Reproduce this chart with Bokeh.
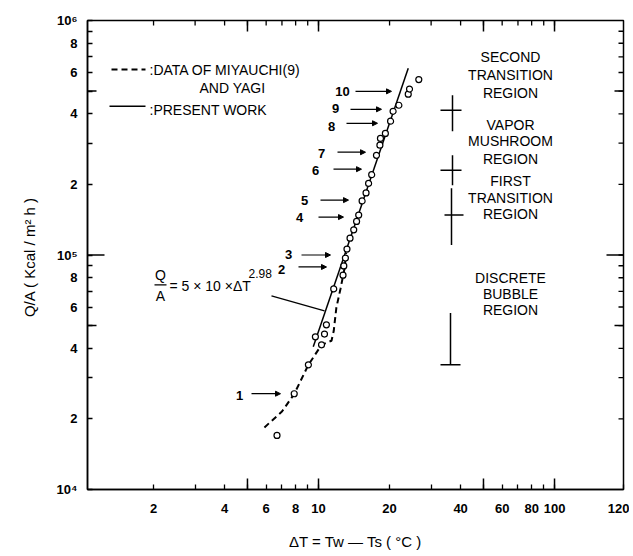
import math
from bokeh.plotting import figure
from bokeh.models import (FixedTicker, Label, Arrow, NormalHead)
from bokeh.embed import file_html
from bokeh.resources import INLINE

# ---------------- data ----------------
# measured points (open circles): delta T [degC], Q/A [kcal/m2 h]
pt_dt = [6.67, 7.89, 9.06, 9.7, 10.3, 10.6, 10.8, 11.6, 12.7, 12.8, 13.0, 13.2,
         13.6, 14.1, 14.5, 14.8, 15.3, 15.9, 16.3, 16.8, 17.6, 18.2, 18.3, 19.2,
         20.2, 20.7, 21.9, 24.0, 24.3, 26.6]
pt_q = [1.70e4, 2.56e4, 3.40e4, 4.48e4, 4.14e4, 4.6e4, 5.04e4, 7.17e4, 8.2e4, 8.98e4,
        9.7e4, 1.06e5, 1.18e5, 1.28e5, 1.39e5, 1.48e5, 1.70e5, 1.84e5, 2.02e5, 2.2e5,
        2.66e5, 2.94e5, 3.14e5, 3.30e5, 3.72e5, 4.1e5, 4.35e5, 4.85e5, 5.1e5, 5.6e5]

# present work (solid line)
present_dt = [9.5, 24.0]
present_q = [4.06e4, 6.25e5]

# data of Miyauchi and Yagi (dashed line)
miya_dt = [5.9, 7.0, 7.9, 9.06, 10.3, 11.35, 11.6, 11.9, 12.4, 12.9, 13.1]
miya_q = [1.84e4, 2.15e4, 2.56e4, 3.40e4, 4.14e4, 4.31e4, 4.74e4, 5.95e4, 7.2e4, 8.8e4, 1.02e5]

# axis ticks
x_major = [2, 4, 6, 8, 10, 20, 40, 60, 80, 100]
x_minor = [3, 5, 7, 9, 30, 50, 70, 90]
x_labels = ["2", "4", "6", "8", "10", "20", "40", "60", "80", "100"]
x_end_label = "120"
y_major = [1e4, 2e4, 4e4, 6e4, 8e4, 1e5, 2e5, 4e5, 6e5, 8e5, 1e6]
y_minor = [3e4, 5e4, 7e4, 9e4, 3e5, 5e5, 7e5, 9e5]
y_labels = ["10\u2074", "2", "4", "6", "8", "10\u2075", "2", "4", "6", "8", "10\u2076"]
x_long = [5, 10, 50, 100]
y_long = [5e4, 1e5, 5e5]

# ---------------- layout constants ----------------
XLO, XHI = 1.05, 196.0
YLO, YHI = 1e4, 1e6
FL, FR, FT, FB = 89, 625, 22, 492  # frame edges in page pixels
OFF = 2                             # page offset of the canvas
W, H = 629, 552
FONT = "Liberation Sans"


def dx(px):
    return 10 ** (math.log10(XLO) + (px - FL) / (FR - FL) * math.log10(XHI / XLO))


def dy(py):
    return 10 ** (math.log10(YLO) + (FB - py) / (FB - FT) * math.log10(YHI / YLO))


p = figure(width=W, height=H, x_axis_type="log", y_axis_type="log",
           x_range=(XLO, XHI), y_range=(YLO, YHI),
           output_backend="svg", toolbar_location=None,
           min_border_left=FL - OFF, min_border_right=W - (FR - OFF),
           min_border_top=FT - OFF, min_border_bottom=H - (FB - OFF),
           x_axis_label="\u0394T = Tw \u2014 Ts ( \u00b0C )",
           y_axis_label="Q/A  ( Kcal / m\u00b2 h )")
p.grid.visible = False
p.outline_line_color = "black"
p.outline_line_width = 1.5
p.background_fill_color = "white"
p.border_fill_color = "white"

xt = FixedTicker(ticks=x_major + [XHI], minor_ticks=x_minor)
yt = FixedTicker(ticks=y_major, minor_ticks=y_minor)

for ax, tk in ((p.xaxis[0], xt), (p.yaxis[0], yt)):
    ax.ticker = tk
    ax.axis_line_width = 1.5
    ax.major_tick_in = 5
    ax.major_tick_out = 0
    ax.minor_tick_in = 5
    ax.minor_tick_out = 0
    ax.major_tick_line_width = 1.3
    ax.minor_tick_line_width = 1.3
    ax.major_label_text_font = FONT
    ax.major_label_text_font_size = "13px"
    ax.major_label_text_font_style = "bold"
    ax.major_label_text_color = "black"
    ax.axis_label_text_font = FONT
    ax.axis_label_text_font_size = "15px"
    ax.axis_label_text_font_style = "normal"
    ax.axis_label_text_color = "black"

p.xaxis[0].major_label_overrides = {**{float(v): t for v, t in zip(x_major, x_labels)}, XHI: x_end_label}
p.xaxis[0].major_label_standoff = 14
p.xaxis[0].axis_label_standoff = 17
p.yaxis[0].major_label_overrides = {float(v): t for v, t in zip(y_major, y_labels)}
p.yaxis[0].major_label_standoff = 10
p.yaxis[0].axis_label_standoff = 16

# ticks on the right and top frame edges
xt_all = x_major + x_minor
yt_all = y_major[1:-1] + y_minor
p.segment(x0=xt_all, y0=[YHI] * len(xt_all), x1=xt_all, y1=[dy(FT + 5)] * len(xt_all),
          line_color="black", line_width=1.3)
p.segment(x0=[XHI] * len(yt_all), y0=yt_all, x1=[dx(FR - 5)] * len(yt_all), y1=yt_all,
          line_color="black", line_width=1.3)

# longer ticks (fives and decades)
p.segment(x0=x_long, y0=[YLO] * len(x_long), x1=x_long, y1=[dy(FB - 11)] * len(x_long),
          line_color="black", line_width=1.5)
p.segment(x0=x_long, y0=[YHI] * len(x_long), x1=x_long, y1=[dy(FT + 11)] * len(x_long),
          line_color="black", line_width=1.5)
y_len_l = [dx(FL + 9), dx(FL + 17), dx(FL + 9)]
y_len_r = [dx(FR - 9), dx(FR - 17), dx(FR - 9)]
p.segment(x0=[XLO] * 3, y0=y_long, x1=y_len_l, y1=y_long, line_color="black", line_width=1.5)
p.segment(x0=[XHI] * 3, y0=y_long, x1=y_len_r, y1=y_long, line_color="black", line_width=1.5)

# ---------------- series ----------------
p.line(miya_dt, miya_q, line_color="black", line_width=2, line_dash="6 4")
p.line(present_dt, present_q, line_color="black", line_width=1.5)
p.scatter(pt_dt, pt_q, marker="circle", size=6, fill_color="white",
          line_color="black", line_width=1.2)


# ---------------- annotations ----------------
def label(px, py, text, size="14px", align="left", style="normal"):
    p.add_layout(Label(x=dx(px), y=dy(py), text=text, text_font=FONT,
                       text_font_size=size, text_align=align, text_baseline="middle",
                       text_font_style=style, text_color="black"))


def seg(x0, y0, x1, y1, dash="solid", w=1.5):
    p.line([dx(x0), dx(x1)], [dy(y0), dy(y1)], line_color="black", line_width=w,
           line_dash=dash)


# legend
seg(113, 71, 147, 71, dash="6 4", w=2)
label(151, 72, ":DATA OF MIYAUCHI(9)")
label(201, 90, "AND YAGI")
seg(111, 108, 147, 108)
label(151, 112, ":PRESENT WORK")

# region texts
for py, t in ((59, "SECOND"), (77, "TRANSITION"), (95, "REGION"),
              (127, "VAPOR"), (143, "MUSHROOM"), (161, "REGION"),
              (183, "FIRST"), (200, "TRANSITION"), (216, "REGION"),
              (280, "DISCRETE"), (296, "BUBBLE"), (312, "REGION")):
    label(512, py, t, align="center")

# region boundary marks
seg(454, 97, 454, 133); seg(442, 112, 463, 112)
seg(454, 157, 454, 187); seg(442, 172, 463, 172)
seg(453, 190, 453, 247); seg(446, 217, 465, 217)
seg(452, 315, 452, 367); seg(442, 367, 462, 367)

# numbered arrows
num_labels = ["1", "2", "3", "4", "5", "6", "7", "8", "9", "10"]
num_pos = [(241, 398), (283, 272), (290, 256), (301, 219), (306, 202),
           (317, 172), (323, 155), (333, 128), (337, 110), (344, 93)]
arr_pos = [(253, 282, 396), (300, 328, 269), (303, 332, 257), (320, 345, 219),
           (322, 350, 202), (335, 363, 171), (339, 367, 154), (348, 379, 125),
           (352, 383, 111), (357, 393, 93)]
for t, (lx, ly), (ax0, ax1, ay) in zip(num_labels, num_pos, arr_pos):
    label(lx, ly, t, size="13px", align="center", style="bold")
    p.add_layout(Arrow(end=NormalHead(size=5, fill_color="black", line_color="black"),
                       x_start=dx(ax0), y_start=dy(ay), x_end=dx(ax1), y_end=dy(ay),
                       line_color="black", line_width=1.2))

# equation
label(162, 277, "Q", align="center")
seg(156, 287, 168, 287, w=1.2)
label(162, 298, "A", align="center")
label(171, 288, "= 5 \u00d7 10 \u00d7\u0394T")
label(250, 276, "2.98", size="12px")
seg(273, 298, 326, 313, w=1.2)

open("out.html", "w").write(file_html(p, INLINE))
